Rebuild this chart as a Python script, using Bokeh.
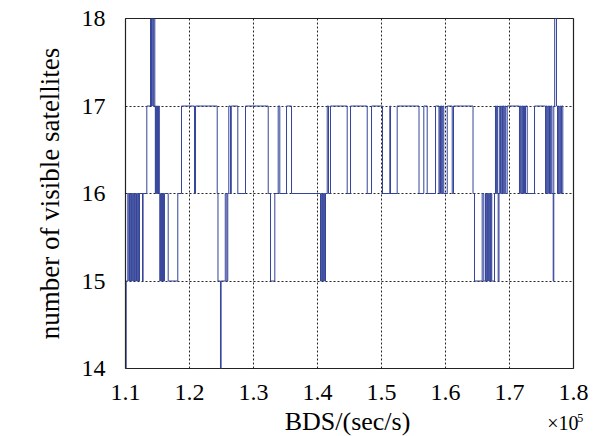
from bokeh.plotting import figure
from bokeh.layouts import column
from bokeh.models import FixedTicker, Label, Range1d
from bokeh.embed import file_html
from bokeh.resources import INLINE

# BDS time (s) at each change, and the number of visible satellites from that time on
t_sec = [110000, 110110, 110360, 110520, 110630, 110730, 110840, 110950, 111060, 111170,
         111280, 111390, 111500, 111610, 111720, 111830, 111940, 112050, 112190, 112660,
         112750, 113330, 113910, 114060, 114170, 114300, 114410, 114580, 114660, 114730,
         114810, 114890, 114970, 115050, 115130, 115200, 115280, 115360, 115440, 115520,
         115590, 115670, 115750, 115830, 115910, 115980, 116090, 116670, 118170, 118750,
         120780, 120940, 124330, 124450, 124840, 124940, 125590, 125830, 125980, 126140,
         126410, 126530, 127550, 128750, 132300, 132660, 133330, 133860, 134110, 135160,
         135940, 140470, 140580, 140690, 140800, 140910, 141020, 141120, 141250, 141520,
         141720, 142030, 144640, 145160, 147770, 148440, 150160, 151300, 151410, 152450,
         155860, 156610, 157140, 158440, 158980, 159110, 159220, 159340, 159450, 159580,
         159730, 160270, 161050, 161250, 164300, 164530, 165730, 165980, 166250, 166360,
         166470, 166580, 166690, 166800, 166910, 167020, 167130, 167230, 167660, 167810,
         167940, 168050, 168160, 168230, 168360, 168470, 168590, 168780, 168910, 169030,
         169160, 169280, 169410, 169640, 171560, 171690, 171810, 171940, 172060, 172190,
         172340, 172500, 172770, 173910, 175630, 175750, 175880, 176000, 176130, 176250,
         176380, 176500, 176640, 176830, 176920, 177060, 177340, 177500, 177630, 177750,
         177880, 178000, 178130, 178330, 178520]
n_sats = [14, 15, 16, 15, 16, 15, 16, 15, 16, 15,
          16, 15, 16, 15, 16, 15, 16, 15, 16, 15,
          16, 17, 18, 17, 18, 17, 18, 17, 16, 17,
          16, 17, 16, 17, 16, 17, 16, 15, 16, 15,
          16, 15, 16, 15, 16, 15, 16, 15, 16, 17,
          16, 17, 16, 15, 14, 15, 16, 15, 16, 17,
          16, 17, 16, 17, 16, 15, 16, 17, 16, 17,
          16, 15, 16, 15, 16, 15, 16, 15, 16, 17,
          16, 17, 16, 17, 16, 17, 16, 17, 16, 17,
          16, 17, 16, 17, 16, 17, 16, 17, 16, 17,
          16, 17, 16, 17, 16, 15, 16, 15, 16, 15,
          16, 15, 16, 15, 16, 15, 16, 15, 16, 17,
          16, 17, 16, 15, 16, 17, 16, 17, 16, 17,
          16, 17, 16, 17, 16, 17, 16, 17, 16, 17,
          16, 17, 16, 17, 16, 17, 16, 17, 16, 17,
          16, 17, 16, 15, 17, 18, 17, 16, 17, 16,
          17, 16, 17, 16, 16]

x_ticks = [110000, 120000, 130000, 140000, 150000, 160000, 170000, 180000]
x_tick_labels = ["1.1", "1.2", "1.3", "1.4", "1.5", "1.6", "1.7", "1.8"]
y_ticks = [14, 15, 16, 17, 18]
x_label = "BDS/(sec/s)"
y_label = "number of visible satellites"
x_scale_text = "\u00d710"
x_scale_exp = "5"

SERIF = "Liberation Serif"
W = 598
LEFT, RIGHT, TOP, BOTTOM = 125, 25, 18, 38
MAIN_H = 406
STRIP_H = 30
X0, X1 = 110000, 180000
SEC_PER_PX = (X1 - X0) / (W - LEFT - RIGHT)

p = figure(width=W, height=MAIN_H, output_backend="svg", toolbar_location=None,
           x_range=Range1d(X0, X1), y_range=Range1d(14, 18),
           min_border_left=LEFT, min_border_right=RIGHT, min_border_top=TOP,
           min_border_bottom=BOTTOM, frame_align=False,
           background_fill_color="white", border_fill_color="white")

p.step(t_sec, n_sats, mode="after", line_color="#34449a", line_width=1)

p.outline_line_color = "#222222"
p.outline_line_width = 1.2

p.xaxis.ticker = FixedTicker(ticks=x_ticks)
p.xaxis.major_label_overrides = {t: s for t, s in zip(x_ticks, x_tick_labels)}
p.yaxis.ticker = FixedTicker(ticks=y_ticks)

for ax in (p.xaxis, p.yaxis):
    ax.axis_line_color = None
    ax.major_tick_line_color = None
    ax.minor_tick_line_color = None
    ax.major_label_text_font = SERIF
    ax.major_label_text_font_size = "24px"
    ax.major_label_text_color = "black"

p.xaxis.major_label_standoff = 10
p.yaxis.major_label_standoff = 14

p.yaxis.axis_label = y_label
p.yaxis.axis_label_text_font = SERIF
p.yaxis.axis_label_text_font_size = "27px"
p.yaxis.axis_label_text_font_style = "normal"
p.yaxis.axis_label_text_color = "black"
p.yaxis.axis_label_standoff = 14

for g in (p.xgrid, p.ygrid):
    g.grid_line_color = "black"
    g.grid_line_dash = "2 2"
    g.grid_line_width = 1
    g.grid_line_alpha = 0.85
p.xgrid.ticker = FixedTicker(ticks=x_ticks)
p.ygrid.ticker = FixedTicker(ticks=y_ticks)

# strip below the main plot carrying the x-axis title and the x10^5 multiplier,
# on the same horizontal time scale as the main plot (its frame spans the full width)
strip = figure(width=W, height=STRIP_H, output_backend="svg", toolbar_location=None,
               x_range=Range1d(X0 - LEFT * SEC_PER_PX, X1 + RIGHT * SEC_PER_PX),
               y_range=Range1d(0, STRIP_H), x_axis_type=None, y_axis_type=None,
               min_border=0, outline_line_color=None, frame_align=False,
               background_fill_color="white", border_fill_color="white")
strip.grid.visible = False

strip.add_layout(Label(x=144690, y=15.5, text=x_label, text_align="center",
                       text_baseline="middle", text_font=SERIF, text_font_size="26px",
                       text_color="black"))
strip.add_layout(Label(x=175890, y=13.75, text=x_scale_text, text_align="left",
                       text_baseline="middle", text_font=SERIF, text_font_size="20px",
                       text_color="black"))
strip.add_layout(Label(x=180580, y=18.3, text=x_scale_exp, text_align="left",
                       text_baseline="middle", text_font=SERIF, text_font_size="12px",
                       text_color="black"))

layout = column(p, strip, spacing=0)
open("out.html", "w").write(file_html(layout, INLINE))
